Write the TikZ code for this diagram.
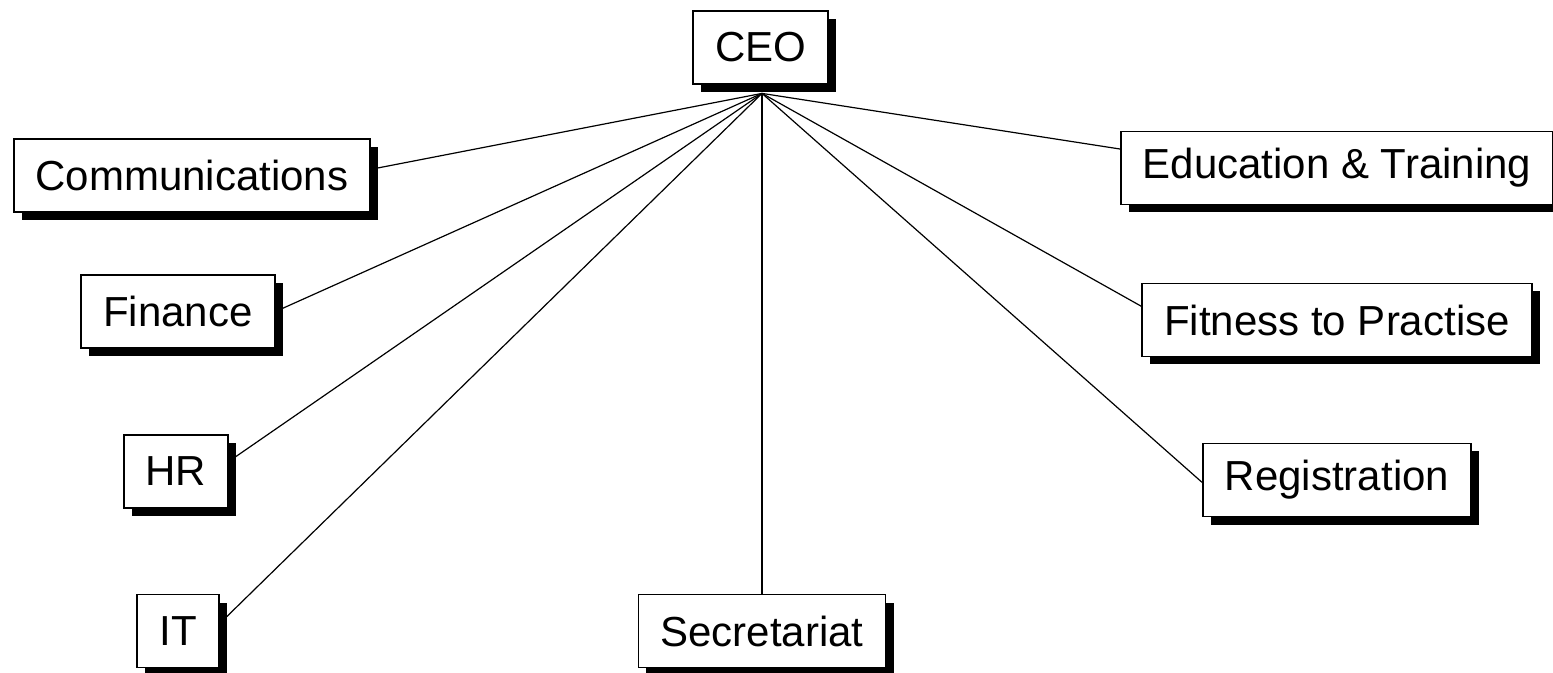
\documentclass[tikz,border=0pt]{standalone}
\usepackage{xcolor}
\usepackage{fontspec}
\setmainfont{Liberation Sans}
\usepackage{tikz}
\usetikzlibrary{shadows}

\tikzset{
  unitbox/.style={draw, line width=0.9pt, fill=white, minimum height=36.5pt, inner xsep=11pt,
    font=\fontsize{21}{25}\selectfont,
    drop shadow={shadow xshift=4pt, shadow yshift=-4pt, fill=black, opacity=1}},
  link/.style={line width=0.6pt}
}

\begin{document}
\begin{tikzpicture}[x=0.5pt,y=0.5pt,yscale=-1,xscale=1]
\useasboundingbox (0,0) rectangle (1553,673);

% Boxes
\node [unitbox] (ceo) at (760.5,47.5) {CEO};
\node [unitbox] (comm) at (192,175.5) {Communications};
\node [unitbox] (fin) at (178,311.5) {Finance};
\node [unitbox] (hr) at (176,471.5) {HR};
\node [unitbox] (it) at (178,631) {IT};
\node [unitbox] (sec) at (762,631) {Secretariat};
\node [unitbox] (edu) at (1337,168) {Education \& Training};
\node [unitbox] (fit) at (1337,320) {Fitness to Practise};
\node [unitbox] (reg) at (1337,480) {Registration};

% Straight Lines
\coordinate (hub) at ([xshift=0.75pt,yshift=4.25pt]ceo.south);
\draw [link] (hub) -- (comm.2.7);
\draw [link] (hub) -- (fin.east);
\draw [link] (hub) -- (hr.11);
\draw [link] (hub) -- (it.10);
\draw [link] (hub) -- (sec.north);
\draw [link] (hub) -- (edu.175.3);
\draw [link] (hub) -- (fit.176);
\draw [link] (hub) -- (reg.181.3);
\end{tikzpicture}
\end{document}
